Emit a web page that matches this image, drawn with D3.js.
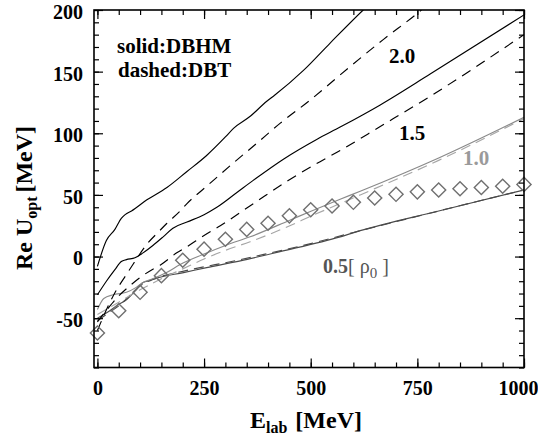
<!DOCTYPE html>
<html><head><meta charset="utf-8">
<script src="https://cdn.jsdelivr.net/npm/d3@7"></script>
<style>
body{margin:0;background:#fff}
text{font-family:"Liberation Serif","Times New Roman",Times,"DejaVu Serif",serif;}
</style>
</head><body>
<svg id="c" width="538" height="439"></svg>
<script>
// ---- data ----
const xMajorTicks = [0, 250, 500, 750, 1000];
const yMajorTicks = [-50, 0, 50, 100, 150, 200];
const xMinorTicks = [0,50,100,150,200,250,300,350,400,450,500,550,600,650,700,750,800,850,900,950,1000];
const yMinorTicks = [-90,-80,-70,-60,-50,-40,-30,-20,-10,0,10,20,30,40,50,60,70,80,90,100,110,120,130,140,150,160,170,180,190,200];

// rho = 2.0 rho0
const s20E = [0,21,41,56,65,80,116,163,210,256,300,319,359,397,416,483,545,623,660];
const s20U = [-8,13,22,31,34,37,46,56,69,82,97,104,114,126,131,151,173,200,212];
const d20E = [0,20,40,69,84,116,146,163,194,210,256,319,374,428,499,592,670,749,780];
const d20U = [-60,-44,-30,-14,-6,10,21,27,37,43,57,76,92,108,127,154,176,197,206];
// rho = 1.5 rho0
const s15E = [0,21,41,56,68,88,107,130,154,177,210,250,280,327,366,436,514,569,663,780,1000];
const s15U = [-31,-20,-10.6,-4,-2.5,-1,3,9,16,23,28,34,40,52,62,79,95,105,123,148,196];
const d15E = [0,25,50,75,100,131,147,186,210,250,288,366,444,522,569,663,780,1000];
const d15U = [-53,-42,-32,-24,-17,-10,-7,3,8,17,25,43,61,77,86,105.5,130,180];
// rho = 1.0 rho0
const s10E = [0,15,37,68,91,107,130,162,194,250,300,358,451,502,569,616,800,1000];
const s10U = [-43,-34,-31,-29,-25,-21,-18,-13,-6.5,2,9,16,29.5,37,46.5,53,80,113];
const d10E = [0,50,100,150,200,250,300,358,451,502,569,616,800,1000];
const d10U = [-47,-37,-27,-18,-10,-2,5,12,25,33,43,50,78,112];
// rho = 0.5 rho0
const s05E = [0,29,49,68,91,107,124,139,202,256,335,428,569,616,800,1000];
const s05U = [-50,-44,-39,-35,-27,-21,-19.5,-17.5,-13,-9,-3.5,4,16,21,37,54];
const d05E = [0,25,50,75,100,125,150,200,250,300,400,500,600,800,1000];
const d05U = [-52,-46,-40,-32,-24,-19,-16,-12,-8.3,-5,2.5,10.5,19.5,37,54];
// empirical points (diamonds)
const expE = [0,50,100,150,200,250,300,350,400,450,500,550,600,650,700,750,800,850,900,950,1000];
const expU = [-62,-44,-29,-15.5,-3,6,14,22,27,33,38,41,44,47.5,50.5,52.5,54,55,56,57,58.5];

// ---- layout ----
const L = 94, R = 524, T = 10, B = 367.5;
const serif = '"Liberation Serif","Times New Roman",Times,"DejaVu Serif",serif';
const svg = d3.select("#c");
const x = d3.scaleLinear().domain([-8, 1000]).range([L, R]);
const y = d3.scaleLinear().domain([-90, 200]).range([B, T]);

svg.append("defs").append("clipPath").attr("id","clip")
  .append("rect").attr("x",L).attr("y",T).attr("width",R-L).attr("height",B-T);

const plot = svg.append("g").attr("clip-path","url(#clip)");
const line = d3.line().x(d=>x(d[0])).y(d=>y(d[1])).curve(d3.curveMonotoneX);
const zip = (a,b)=>a.map((v,i)=>[v,b[i]]);

const series = [
  {E:s05E,U:s05U,c:"#4a4a4a",dash:null},
  {E:d05E,U:d05U,c:"#4a4a4a",dash:"10,6"},
  {E:d10E,U:d10U,c:"#a6a6a6",dash:"10,6"},
  {E:s10E,U:s10U,c:"#8a8a8a",dash:null},
  {E:s15E,U:s15U,c:"#000",dash:null},
  {E:d15E,U:d15U,c:"#000",dash:"10,7"},
  {E:s20E,U:s20U,c:"#000",dash:null},
  {E:d20E,U:d20U,c:"#000",dash:"10,7"},
];
series.forEach(s=>{
  plot.append("path").datum(zip(s.E,s.U))
    .attr("d",line).attr("fill","none")
    .attr("stroke",s.c).attr("stroke-width",1.15)
    .attr("stroke-dasharray",s.dash);
});

// diamonds
const sym = d3.symbol(d3.symbolSquare, 100);
svg.append("g").selectAll("path").data(zip(expE,expU)).join("path")
  .attr("d",sym)
  .attr("transform",d=>`translate(${x(d[0])},${y(d[1])}) rotate(45)`)
  .attr("fill","none").attr("stroke","#707070").attr("stroke-width",1.4);

// ---- axes ----
const fmt = d=>String(d);
function styleAxis(g){
  g.select(".domain").remove();
  g.selectAll("line").attr("stroke","#000").attr("stroke-width",1.2);
  g.selectAll("text").attr("font-size","20px").attr("font-weight","bold").attr("fill","#000")
    .attr("font-family",serif);
}
// bottom
svg.append("g").attr("transform",`translate(0,${B})`)
  .call(d3.axisBottom(x).tickValues(xMinorTicks).tickSize(-5).tickFormat(""))
  .call(styleAxis);
const gb = svg.append("g").attr("transform",`translate(0,${B})`)
  .call(d3.axisBottom(x).tickValues(xMajorTicks).tickSize(-9).tickPadding(13).tickFormat(fmt))
  .call(styleAxis);
gb.selectAll("text").filter(d=>d===1000).attr("text-anchor","end").attr("x",14);
// top
svg.append("g").attr("transform",`translate(0,${T})`)
  .call(d3.axisTop(x).tickValues(xMinorTicks).tickSize(-5).tickFormat(""))
  .call(styleAxis);
svg.append("g").attr("transform",`translate(0,${T})`)
  .call(d3.axisTop(x).tickValues(xMajorTicks).tickSize(-9).tickFormat(""))
  .call(styleAxis);
// left
svg.append("g").attr("transform",`translate(${L},0)`)
  .call(d3.axisLeft(y).tickValues(yMinorTicks).tickSize(-5).tickFormat(""))
  .call(styleAxis);
const gl = svg.append("g").attr("transform",`translate(${L},0)`)
  .call(d3.axisLeft(y).tickValues(yMajorTicks).tickSize(-9).tickPadding(11).tickFormat(fmt))
  .call(styleAxis);
gl.selectAll("text").attr("dy","0.42em");
// right
svg.append("g").attr("transform",`translate(${R},0)`)
  .call(d3.axisRight(y).tickValues(yMinorTicks).tickSize(-5).tickFormat(""))
  .call(styleAxis);
svg.append("g").attr("transform",`translate(${R},0)`)
  .call(d3.axisRight(y).tickValues(yMajorTicks).tickSize(-9).tickFormat(""))
  .call(styleAxis);

// frame
svg.append("rect").attr("x",L).attr("y",T).attr("width",R-L).attr("height",B-T)
  .attr("fill","none").attr("stroke","#000").attr("stroke-width",1.6);

// ---- texts ----
function txt(xp,yp,s,size,color,weight){
  return svg.append("text").attr("x",xp).attr("y",yp).text(s)
    .attr("font-size",size+"px").attr("fill",color||"#000")
    .attr("font-weight",weight||"bold").attr("font-family",serif);
}
txt(117,53,"solid:DBHM",21);
txt(118,77,"dashed:DBT",21);
txt(389,63,"2.0",21);
txt(399,140,"1.5",21);
txt(463,165,"1.0",21,"#9a9a9a");

const t05 = svg.append("text").attr("x",323).attr("y",273)
  .attr("font-size","20px").attr("fill","#555").attr("font-family",serif);
t05.append("tspan").attr("font-weight","bold").text("0.5");
t05.append("tspan").attr("font-weight","normal").text("[ ρ");
t05.append("tspan").attr("font-weight","normal").attr("font-size","15px").attr("dy",5).text("0");
t05.append("tspan").attr("font-weight","normal").attr("dy",-5).text(" ]");

// x title
const xt = svg.append("text").attr("x",250).attr("y",428)
  .attr("font-size","24px").attr("font-weight","bold").attr("font-family",serif);
xt.append("tspan").text("E");
xt.append("tspan").attr("font-size","16px").attr("dy",5).text("lab");
xt.append("tspan").attr("dy",-5).attr("dx",8).text("[MeV]");

// y title
const yt = svg.append("text").attr("transform","translate(32,198) rotate(-90)")
  .attr("text-anchor","middle")
  .attr("font-size","24px").attr("font-weight","bold").attr("font-family",serif);
yt.append("tspan").text("Re U");
yt.append("tspan").attr("font-size","16px").attr("dy",5).text("opt");
yt.append("tspan").attr("dy",-5).attr("dx",4).text("[MeV]");
</script>
</body></html>
